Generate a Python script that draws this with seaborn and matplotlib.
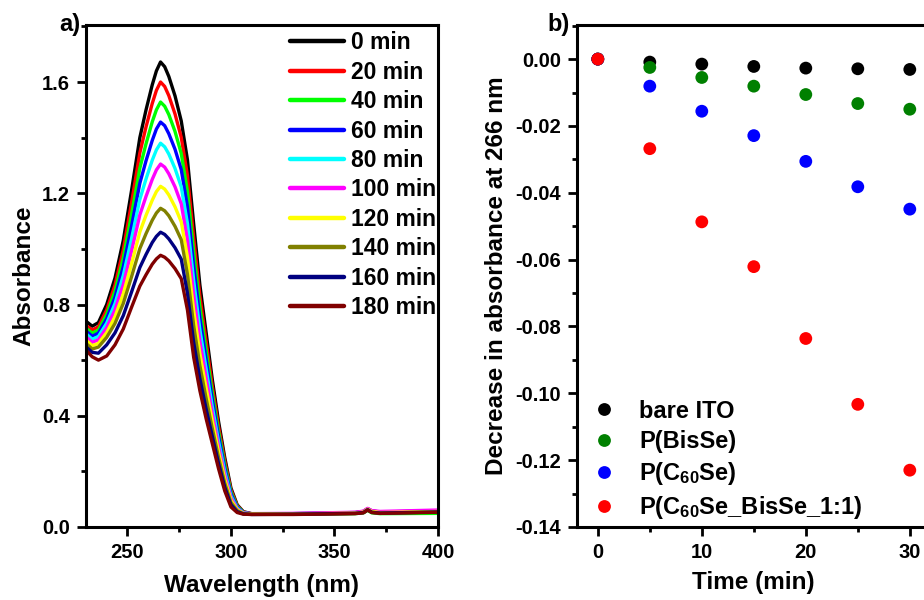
import numpy as np
import pandas as pd
import matplotlib
matplotlib.use('Agg')
import matplotlib.pyplot as plt
import seaborn as sns
from matplotlib.ticker import MultipleLocator, FormatStrFormatter

# ---------------- data: panel a (UV-vis spectra) ----------------
wavelength = [230, 233, 236, 240, 244, 248, 252, 256, 259, 262, 264, 266, 268, 270, 273, 276,
              279, 282, 285, 288, 291, 294, 297, 300, 303, 306, 310, 330, 360, 364, 366, 368, 372, 400]
abs_0 = [.740, .722, .735, .800, .895, 1.030, 1.210, 1.400, 1.500, 1.590, 1.640, 1.672, 1.655, 1.620, 1.550, 1.460,
         1.320, 1.090, .870, .700, .530, .380, .250, .140, .080, .055, .048, .048, .052, .056, .066, .058, .054, .058]
abs_20 = [.725, .708, .720, .781, .870, .997, 1.166, 1.345, 1.439, 1.523, 1.570, 1.600, 1.584, 1.551, 1.485, 1.401,
          1.264, 1.040, .830, .668, .506, .362, .238, .133, .077, .054, .047, .047, .051, .055, .065, .057, .053, .057]
abs_40 = [.715, .697, .708, .765, .848, .967, 1.124, 1.290, 1.378, 1.457, 1.500, 1.528, 1.513, 1.483, 1.422, 1.343,
          1.207, .990, .791, .635, .482, .344, .225, .126, .074, .053, .046, .046, .048, .051, .060, .051, .048, .049]
abs_60 = [.705, .686, .697, .749, .826, .936, 1.082, 1.236, 1.317, 1.390, 1.431, 1.456, 1.443, 1.414, 1.358, 1.285,
          1.151, .940, .751, .603, .458, .327, .212, .119, .071, .052, .047, .047, .050, .054, .064, .056, .052, .056]
abs_80 = [.695, .675, .685, .733, .803, .904, 1.037, 1.178, 1.252, 1.319, 1.356, 1.380, 1.367, 1.341, 1.289, 1.223,
          1.091, .886, .709, .569, .432, .308, .199, .111, .068, .051, .047, .048, .051, .055, .065, .057, .053, .058]
abs_100 = [.684, .664, .673, .717, .781, .872, .993, 1.122, 1.189, 1.250, 1.284, 1.305, 1.294, 1.270, 1.223, 1.162,
           1.032, .834, .667, .535, .407, .289, .186, .104, .065, .050, .048, .049, .053, .057, .067, .059, .056, .061]
abs_120 = [.672, .652, .660, .699, .756, .838, .946, 1.061, 1.121, 1.175, 1.206, 1.225, 1.215, 1.194, 1.151, 1.097,
           .970, .778, .623, .499, .381, .270, .172, .096, .062, .049, .047, .047, .050, .054, .064, .056, .052, .056]
abs_140 = [.660, .640, .647, .682, .732, .804, .900, 1.001, 1.055, 1.103, 1.129, 1.146, 1.137, 1.119, 1.081, 1.033,
           .908, .724, .580, .463, .354, .250, .158, .088, .059, .048, .046, .046, .049, .052, .062, .053, .050, .054]
abs_160 = [.648, .628, .625, .655, .698, .760, .845, .933, .980, 1.023, 1.045, 1.060, 1.052, 1.036, 1.004, .963,
           .840, .664, .533, .425, .326, .229, .143, .080, .055, .047, .045, .046, .049, .052, .062, .053, .050, .054]
abs_180 = [.636, .612, .600, .615, .655, .712, .790, .866, .907, .945, .964, .977, .970, .957, .929, .893,
           .780, .610, .490, .390, .300, .210, .130, .072, .052, .046, .045, .045, .048, .051, .061, .052, .049, .053]
time_labels = ['0 min', '20 min', '40 min', '60 min', '80 min', '100 min', '120 min', '140 min', '160 min', '180 min']
spectra = [abs_0, abs_20, abs_40, abs_60, abs_80, abs_100, abs_120, abs_140, abs_160, abs_180]
line_colors = ['#000000', '#FF0000', '#00FF00', '#0000FF', '#00FFFF', '#FF00FF', '#FFFF00', '#808000', '#000080', '#800000']

# ---------------- data: panel b (decrease at 266 nm) ----------------
time_min = [0, 5, 10, 15, 20, 25, 30]
bare_ito = [0.0, -0.0009, -0.0015, -0.0022, -0.0027, -0.0029, -0.0031]
p_bisse = [0.0, -0.0025, -0.0055, -0.0081, -0.0106, -0.0133, -0.0150]
p_c60se = [0.0, -0.0081, -0.0156, -0.0229, -0.0306, -0.0382, -0.0449]
p_mix = [0.0, -0.0268, -0.0487, -0.0621, -0.0836, -0.1033, -0.1230]
sample_labels = ['bare ITO', 'P(BisSe)', 'P(C$_{60}$Se)', 'P(C$_{60}$Se_BisSe_1:1)']
dot_colors = ['#000000', '#008000', '#0000FF', '#FF0000']

# ---------------- style ----------------
sns.set_style('ticks')
plt.rcParams['font.family'] = ['Liberation Sans', 'DejaVu Sans']
plt.rcParams['font.weight'] = 'bold'
plt.rcParams['axes.labelweight'] = 'bold'
plt.rcParams['text.color'] = 'black'
plt.rcParams['axes.labelcolor'] = 'black'
plt.rcParams['xtick.color'] = 'black'
plt.rcParams['ytick.color'] = 'black'
plt.rcParams['mathtext.fontset'] = 'custom'
plt.rcParams['mathtext.rm'] = 'Liberation Sans:bold'
plt.rcParams['mathtext.it'] = 'Liberation Sans:bold'
plt.rcParams['mathtext.bf'] = 'Liberation Sans:bold'
plt.rcParams['axes.unicode_minus'] = False

fig = plt.figure(figsize=(9.24, 6), dpi=100)
axa = fig.add_axes([86/924, 73/600, 352/924, 502/600])
axb = fig.add_axes([577/924, 73/600, 353.6/924, 502/600])

# panel a
rows = []
for lab, vals in zip(time_labels, spectra):
    for w, v in zip(wavelength, vals):
        rows.append((w, v, lab))
df_a = pd.DataFrame(rows, columns=['wl', 'A', 'time'])
sns.lineplot(data=df_a, x='wl', y='A', hue='time', hue_order=time_labels,
             palette=line_colors, linewidth=2.4, estimator=None, sort=False, ax=axa)
axa.set_xlim(230, 400)
axa.set_ylim(0, 1.805)
axa.xaxis.set_major_locator(MultipleLocator(50))
axa.xaxis.set_minor_locator(MultipleLocator(25))
axa.yaxis.set_major_locator(MultipleLocator(0.4))
axa.yaxis.set_minor_locator(MultipleLocator(0.2))
axa.yaxis.set_major_formatter(FormatStrFormatter('%.1f'))
axa.set_xlabel('Wavelength (nm)', fontsize=17.5, fontweight='bold')
axa.set_ylabel('Absorbance', fontsize=17.5, fontweight='bold')
axa.xaxis.set_label_coords(0.5, -0.094)
axa.yaxis.set_label_coords(-0.145, 0.5)
leg = axa.legend(loc='upper right', bbox_to_anchor=(1.0, 0.992), frameon=False,
                 fontsize=16.5, handlelength=2.35, handletextpad=0.28,
                 labelspacing=0.28, borderaxespad=0.0, borderpad=0.1)
for ln in leg.get_lines():
    ln.set_linewidth(3.2)

# panel b
rows = []
for lab, vals in zip(sample_labels, [bare_ito, p_bisse, p_c60se, p_mix]):
    for t, v in zip(time_min, vals):
        rows.append((t, v, lab))
df_b = pd.DataFrame(rows, columns=['t', 'dA', 'sample'])
sns.scatterplot(data=df_b, x='t', y='dA', hue='sample', hue_order=sample_labels,
                palette=dot_colors, s=85, linewidth=0, ax=axb)
axb.set_xlim(-2, 32)
axb.set_ylim(-0.14, 0.0102)
axb.xaxis.set_major_locator(MultipleLocator(10))
axb.xaxis.set_minor_locator(MultipleLocator(5))
axb.yaxis.set_major_locator(MultipleLocator(0.02))
axb.yaxis.set_minor_locator(MultipleLocator(0.01))
axb.yaxis.set_major_formatter(FormatStrFormatter('%.2f'))
axb.set_xlabel('Time (min)', fontsize=17.5, fontweight='bold')
axb.set_ylabel('Decrease in absorbance at 266 nm', fontsize=17.5, fontweight='bold')
axb.xaxis.set_label_coords(0.5, -0.088)
axb.yaxis.set_label_coords(-0.196, 0.5)
axb.legend(loc='lower left', bbox_to_anchor=(15/353.6, 0.012), frameon=False,
           fontsize=17, handlelength=1.0, handletextpad=1.0, labelspacing=0.3,
           borderaxespad=0, borderpad=0, markerscale=1.0)

for ax in (axa, axb):
    for sp in ax.spines.values():
        sp.set_visible(True)
        sp.set_linewidth(2.2)
        sp.set_color('black')
    ax.tick_params(which='major', direction='out', length=6.5, width=2, labelsize=14.5,
                   pad=5, top=False, right=False, color='black', labelcolor='black')
    ax.tick_params(which='minor', direction='out', length=3.5, width=2, top=False, right=False,
                   color='black')
    for t in ax.get_xticklabels() + ax.get_yticklabels():
        t.set_fontweight('bold')

fig.text(59/924, 1 - 25/600, 'a)', fontsize=17, fontweight='bold', va='center', ha='left')
fig.text(547/924, 1 - 25/600, 'b)', fontsize=17, fontweight='bold', va='center', ha='left')

fig.savefig('out.png', dpi=100)
